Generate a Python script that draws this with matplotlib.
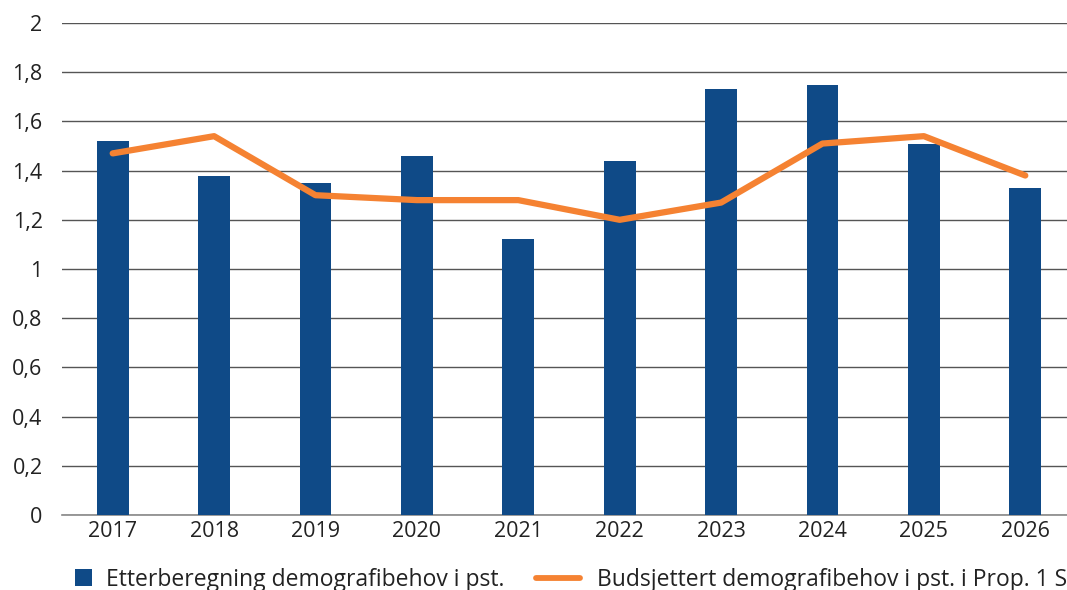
import matplotlib

matplotlib.use("Agg")

import matplotlib.pyplot as plt
import numpy as np
from matplotlib.lines import Line2D
from matplotlib.patches import Rectangle

years = ["2017", "2018", "2019", "2020", "2021", "2022", "2023", "2024", "2025", "2026"]
etterberegning = [1.52, 1.38, 1.35, 1.46, 1.12, 1.44, 1.73, 1.75, 1.51, 1.33]
budsjettert = [1.47, 1.54, 1.30, 1.28, 1.28, 1.20, 1.27, 1.51, 1.54, 1.38]
y_ticks = [0, 0.2, 0.4, 0.6, 0.8, 1.0, 1.2, 1.4, 1.6, 1.8, 2.0]
y_labels = ["0", "0,2", "0,4", "0,6", "0,8", "1", "1,2", "1,4", "1,6", "1,8", "2"]
bar_label = "Etterberegning demografibehov i pst."
line_label = "Budsjettert demografibehov i pst. i Prop. 1 S"

BLUE = "#0f4a87"
ORANGE = "#f58232"
TEXT = "#222222"

plt.rcParams["font.family"] = ["Open Sans", "DejaVu Sans"]

W, H = 1067, 590
fig = plt.figure(figsize=(W / 100, H / 100), dpi=100)
ax = fig.add_axes([62 / W, 1 - 515 / H, 1014 / W, (515 - 23) / H])

x = np.arange(len(years))
ax.bar(x, etterberegning, width=0.315, color=BLUE, zorder=3)
ax.plot(x, budsjettert, color=ORANGE, linewidth=4.5, solid_capstyle="round", zorder=4)

ax.set_xlim(-0.5, len(years) - 0.5)
ax.set_ylim(0, 2)
ax.set_yticks(y_ticks)
ax.set_yticklabels(y_labels)
ax.set_xticks(x)
ax.set_xticklabels(years)
ax.tick_params(axis="both", length=0, labelsize=15.5, colors=TEXT)
ax.tick_params(axis="y", pad=14)
ax.tick_params(axis="x", pad=4)
ax.grid(axis="y", color="#555555", linewidth=1.0, zorder=0)
for side in ["top", "right", "left"]:
    ax.spines[side].set_visible(False)
ax.spines["bottom"].set_color("#888888")
ax.spines["bottom"].set_linewidth(1.2)


# legend drawn by hand in pixel positions so it can run off the edge like the original
def fx(px):
    return px / W


def fy(py):
    return 1 - py / H


fig.patches.append(
    Rectangle((fx(75), fy(586)), fx(92) - fx(75), fy(569) - fy(586),
              transform=fig.transFigure, facecolor=BLUE, edgecolor="none")
)
fig.text(fx(106), fy(586), bar_label, fontsize=16.5, color=TEXT, va="baseline", ha="left")
fig.lines.append(
    Line2D([fx(536), fx(580)], [fy(578), fy(578)], transform=fig.transFigure,
           color=ORANGE, linewidth=4.2, solid_capstyle="round")
)
fig.text(fx(597), fy(586), line_label, fontsize=16.5, color=TEXT, va="baseline", ha="left")

fig.savefig("out.png", dpi=100, facecolor="white")
